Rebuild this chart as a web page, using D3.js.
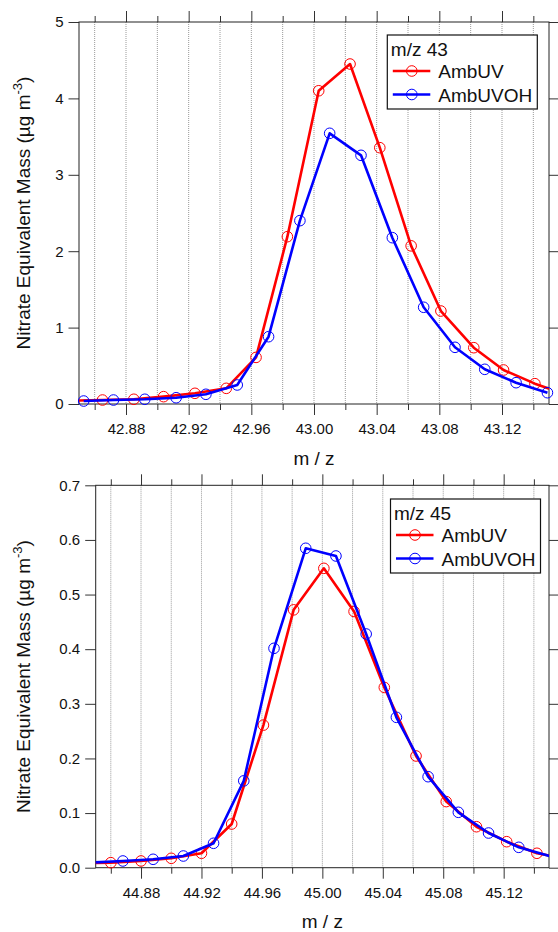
<!DOCTYPE html>
<html>
<head>
<meta charset="utf-8">
<script src="https://cdn.jsdelivr.net/npm/d3@7"></script>
<style>
  body { margin: 0; background: #fff; }
  svg { display: block; font-family: "Liberation Sans", Arial, sans-serif; }
</style>
</head>
<body>
<div id="chart"></div>
<script>
// ---- data ----
// m/z 43 panel
var mz43_uv_x   = [42.845, 42.865, 42.885, 42.904, 42.924, 42.944, 42.963, 42.983, 43.003, 43.023, 43.042, 43.062, 43.081, 43.102, 43.121, 43.141, 43.161];
var mz43_uv_y   = [0.045, 0.052, 0.062, 0.096, 0.14, 0.205, 0.61, 2.19, 4.10, 4.45, 3.355, 2.07, 1.217, 0.737, 0.445, 0.266, 0.12];
var mz43_uvoh_x = [42.853, 42.872, 42.892, 42.912, 42.931, 42.951, 42.971, 42.991, 43.010, 43.030, 43.050, 43.070, 43.090, 43.109, 43.129, 43.149];
var mz43_uvoh_y = [0.039, 0.052, 0.062, 0.082, 0.127, 0.249, 0.881, 2.40, 3.543, 3.255, 2.177, 1.266, 0.742, 0.454, 0.279, 0.148];

// m/z 45 panel
var mz45_uv_x   = [44.840, 44.860, 44.880, 44.900, 44.920, 44.940, 44.961, 44.981, 45.001, 45.021, 45.041, 45.062, 45.082, 45.102, 45.122, 45.142, 45.162];
var mz45_uv_y   = [0.008, 0.0092, 0.0123, 0.0172, 0.0264, 0.080, 0.261, 0.472, 0.548, 0.469, 0.330, 0.2045, 0.121, 0.075, 0.0476, 0.0264, 0.016];
var mz45_uvoh_x = [44.848, 44.868, 44.888, 44.908, 44.928, 44.948, 44.968, 44.989, 45.009, 45.029, 45.049, 45.070, 45.090, 45.110, 45.130, 45.151];
var mz45_uvoh_y = [0.0095, 0.0123, 0.0154, 0.0214, 0.0447, 0.159, 0.4016, 0.5847, 0.5706, 0.4278, 0.2753, 0.1666, 0.1014, 0.0635, 0.0373, 0.021];

// axis ticks
var mz43_xmajor = [42.88, 42.92, 42.96, 43.00, 43.04, 43.08, 43.12];
var mz43_xminor = [42.86, 42.90, 42.94, 42.98, 43.02, 43.06, 43.10, 43.14];
var mz43_yticks = [0, 1, 2, 3, 4, 5];
var mz45_xmajor = [44.88, 44.92, 44.96, 45.00, 45.04, 45.08, 45.12];
var mz45_xminor = [44.86, 44.90, 44.94, 44.98, 45.02, 45.06, 45.10, 45.14];
var mz45_yticks = [0, 0.1, 0.2, 0.3, 0.4, 0.5, 0.6, 0.7];

var seriesNames = ["AmbUV", "AmbUVOH"];
var seriesColors = ["#ff0000", "#0000ff"];

var svg = d3.select("#chart").append("svg")
    .attr("width", 558)
    .attr("height", 932);

function panel(p) {
    var x = d3.scaleLinear().domain(p.xdom).range([p.left, p.right]);
    var y = d3.scaleLinear().domain(p.ydom).range([p.bottom, p.top]);
    var g = svg.append("g");

    // dotted vertical grid at every tick
    g.selectAll(".grid")
        .data(p.xmajor.concat(p.xminor))
        .enter().append("line")
        .attr("x1", function (d) { return x(d); })
        .attr("x2", function (d) { return x(d); })
        .attr("y1", p.top)
        .attr("y2", p.bottom)
        .attr("stroke", "#9a9a9a")
        .attr("stroke-width", 1)
        .attr("stroke-dasharray", "1,1");

    // axes
    var bottomMajor = d3.axisBottom(x).tickValues(p.xmajor).tickSize(11).tickPadding(8.4)
        .tickSizeOuter(0).tickFormat(d3.format(".2f"));
    var bottomMinor = d3.axisBottom(x).tickValues(p.xminor).tickSize(6).tickSizeOuter(0).tickFormat("");
    var topMajor = d3.axisTop(x).tickValues(p.xmajor).tickSize(11).tickSizeOuter(0).tickFormat("");
    var topMinor = d3.axisTop(x).tickValues(p.xminor).tickSize(6).tickSizeOuter(0).tickFormat("");
    var left = d3.axisLeft(y).tickValues(p.yticks).tickSize(10.5).tickPadding(5)
        .tickSizeOuter(0).tickFormat(d3.format(p.yfmt));
    var right = d3.axisRight(y).tickValues(p.yticks).tickSize(9).tickSizeOuter(0).tickFormat("");

    [[bottomMajor, "0," + p.bottom], [bottomMinor, "0," + p.bottom],
     [topMajor, "0," + p.top], [topMinor, "0," + p.top],
     [left, p.left + ",0"], [right, p.right + ",0"]].forEach(function (a) {
        var ax = g.append("g")
            .attr("transform", "translate(" + a[1] + ")")
            .call(a[0]);
        ax.select(".domain").remove();
        ax.selectAll("line").attr("stroke", "#333");
        ax.selectAll("text")
            .attr("fill", "#111")
            .style("font-size", "15px")
            .style("font-family", "'Liberation Sans', Arial, sans-serif");
    });

    // frame
    g.append("rect")
        .attr("x", p.left).attr("y", p.top)
        .attr("width", p.right - p.left).attr("height", p.bottom - p.top)
        .attr("fill", "none").attr("stroke", "#222").attr("stroke-width", 1);

    // series
    var clipId = "clip" + p.id;
    svg.append("clipPath").attr("id", clipId)
        .append("rect")
        .attr("x", p.left).attr("y", p.top)
        .attr("width", p.right - p.left).attr("height", p.bottom - p.top);

    var line = d3.line()
        .x(function (d) { return x(d[0]); })
        .y(function (d) { return y(d[1]); });

    p.series.forEach(function (s, i) {
        var pts = d3.zip(s.x, s.y);
        g.append("path")
            .datum(pts)
            .attr("clip-path", "url(#" + clipId + ")")
            .attr("d", line)
            .attr("fill", "none")
            .attr("stroke", seriesColors[i])
            .attr("stroke-width", 2.6)
            .attr("stroke-linejoin", "round");
        g.selectAll(".pt" + i)
            .data(pts.filter(function (d) { return d[0] >= p.xdom[0] && d[0] <= p.xdom[1]; }))
            .enter().append("circle")
            .attr("cx", function (d) { return x(d[0]); })
            .attr("cy", function (d) { return y(d[1]); })
            .attr("r", 5.3)
            .attr("fill", "none")
            .attr("stroke", seriesColors[i])
            .attr("stroke-width", 1);
    });

    // axis titles
    g.append("text")
        .attr("x", (p.left + p.right) / 2)
        .attr("y", p.bottom + 60.5)
        .attr("text-anchor", "middle")
        .attr("fill", "#111")
        .style("font-size", "19px")
        .text("m / z");

    var yl = g.append("text")
        .attr("transform", "translate(30," + (p.top + p.bottom) / 2 + ") rotate(-90)")
        .attr("text-anchor", "middle")
        .attr("fill", "#111")
        .style("font-size", "19px");
    yl.append("tspan").text("Nitrate Equivalent Mass (\u00b5g m");
    yl.append("tspan").attr("dy", -8).style("font-size", "13px").text("-3");
    yl.append("tspan").attr("dy", 8).text(")");

    // legend
    var lg = g.append("g").attr("transform", "translate(" + p.legX + "," + p.legY + ")");
    lg.append("rect")
        .attr("width", 150).attr("height", 74)
        .attr("fill", "#fff").attr("stroke", "#111").attr("stroke-width", 1.2);
    lg.append("text")
        .attr("x", 3.5).attr("y", 21)
        .attr("fill", "#111")
        .style("font-size", "19px")
        .text(p.title);
    seriesNames.forEach(function (name, i) {
        var cy = 36 + i * 23.5;
        lg.append("line")
            .attr("x1", 5.5).attr("x2", 43).attr("y1", cy).attr("y2", cy)
            .attr("stroke", seriesColors[i]).attr("stroke-width", 2.6);
        lg.append("circle")
            .attr("cx", 24.5).attr("cy", cy).attr("r", 5.3)
            .attr("fill", "none").attr("stroke", seriesColors[i]).attr("stroke-width", 1);
        lg.append("text")
            .attr("x", 51).attr("y", cy + 7)
            .attr("fill", "#111")
            .style("font-size", "19px")
            .text(name);
    });
}

panel({
    id: 43, title: "m/z 43",
    left: 79, right: 549, top: 22, bottom: 404,
    xdom: [42.85, 43.15], ydom: [0, 5],
    xmajor: mz43_xmajor, xminor: mz43_xminor, yticks: mz43_yticks, yfmt: "d",
    series: [{x: mz43_uv_x, y: mz43_uv_y}, {x: mz43_uvoh_x, y: mz43_uvoh_y}],
    legX: 387.3, legY: 35
});

panel({
    id: 45, title: "m/z 45",
    left: 95.7, right: 549, top: 485.3, bottom: 867.7,
    xdom: [44.85, 45.15], ydom: [0, 0.7],
    xmajor: mz45_xmajor, xminor: mz45_xminor, yticks: mz45_yticks, yfmt: ".1f",
    series: [{x: mz45_uv_x, y: mz45_uv_y}, {x: mz45_uvoh_x, y: mz45_uvoh_y}],
    legX: 390.5, legY: 499
});
</script>
</body>
</html>
